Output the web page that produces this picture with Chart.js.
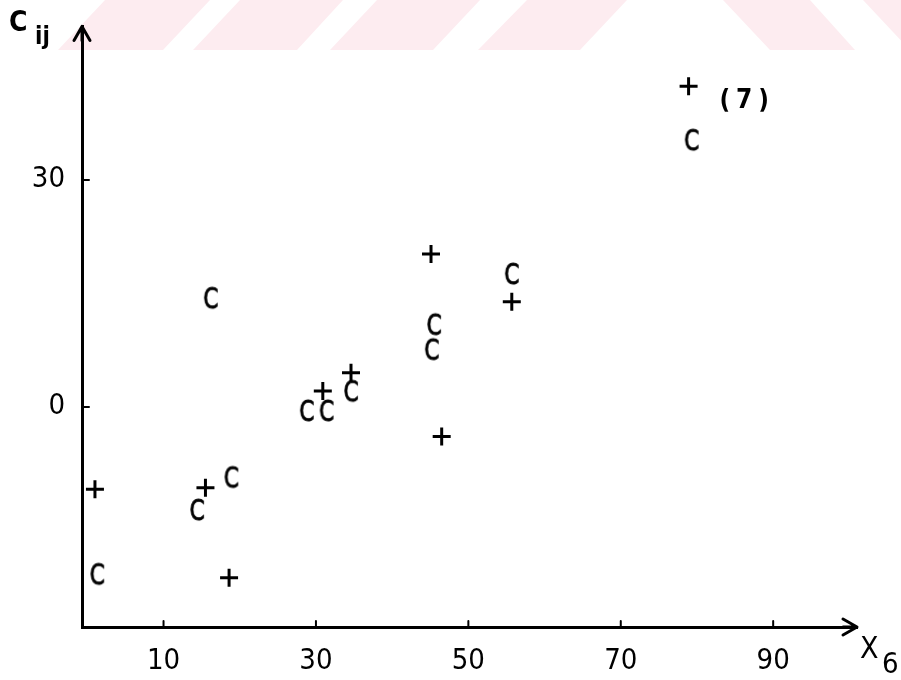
<!DOCTYPE html>
<html>
<head>
<meta charset="utf-8">
<script src="https://cdn.jsdelivr.net/npm/chart.js@4"></script>
<style>
  html, body { margin: 0; padding: 0; background: #fff; }
  #chart { display: block; }
</style>
</head>
<body>
<canvas id="chart" width="901" height="680"></canvas>
<script>
// values
var plusX = [1.0, 15.5, 18.6, 30.9, 34.6, 45.1, 46.5, 55.7, 78.9];
var plusY = [-10.9, -10.7, -22.6, 2.1, 4.5, 20.2, -3.9, 13.9, 42.4];
var cX = [1.3, 14.4, 18.9, 16.2, 28.8, 31.4, 34.6, 45.5, 45.2, 55.7, 79.3];
var cY = [-22.4, -13.9, -9.6, 14.1, -0.8, -0.8, 1.8, 10.6, 7.3, 17.3, 35.0];
var xTicks = [10, 30, 50, 70, 90];
var yTicks = [0, 30];
var noteText = '(7)';
var noteAt = [86.2, 40.4];

var FONT = '"DejaVu Sans Condensed", "Liberation Sans Narrow", "DejaVu Sans", sans-serif';

function toPoints(xs, ys) {
    return xs.map(function (x, i) { return { x: x, y: ys[i] }; });
}

// "C" glyph used as a point style, a bit narrow like the typewriter C
function makeLetter(letter) {
    var c = document.createElement('canvas');
    c.width = 24;
    c.height = 30;
    var g = c.getContext('2d');
    g.fillStyle = '#000';
    g.strokeStyle = '#000';
    g.lineWidth = 0.8;
    g.translate(12, 16);
    g.scale(0.86, 1);
    g.font = '28px ' + FONT;
    g.textAlign = 'center';
    g.textBaseline = 'middle';
    g.fillText(letter, 0, 0);
    g.strokeText(letter, 0, 0);
    return c;
}

// pale pink stripes across the top of the scan
var stripes = [
    [[105, 0], [210, 0], [163, 50], [58, 50]],
    [[240, 0], [343, 0], [297, 50], [193, 50]],
    [[377, 0], [480, 0], [433, 50], [330, 50]],
    [[527, 0], [627, 0], [580, 50], [478, 50]],
    [[723, 0], [810, 0], [855, 50], [770, 50]],
    [[863, 0], [950, 0], [995, 50], [910, 50]]
];

var paperPlugin = {
    id: 'paper',
    beforeDraw: function (chart) {
        var ctx = chart.ctx;
        ctx.save();
        ctx.fillStyle = 'rgb(253, 236, 240)';
        stripes.forEach(function (s) {
            ctx.beginPath();
            ctx.moveTo(s[0][0], s[0][1]);
            for (var i = 1; i < s.length; i++) ctx.lineTo(s[i][0], s[i][1]);
            ctx.closePath();
            ctx.fill();
        });
        ctx.restore();
    }
};

var axesPlugin = {
    id: 'axesDeco',
    afterDraw: function (chart) {
        var ctx = chart.ctx;
        var a = chart.chartArea;
        var xs = chart.scales.x, ys = chart.scales.y;
        ctx.save();
        ctx.strokeStyle = '#000';
        ctx.lineWidth = 3;
        ctx.lineCap = 'round';
        ctx.lineJoin = 'round';

        // arrow heads
        ctx.beginPath();
        ctx.moveTo(a.left - 8, a.top + 14);
        ctx.lineTo(a.left, a.top);
        ctx.lineTo(a.left + 8, a.top + 14);
        ctx.moveTo(a.left, a.top);
        ctx.lineTo(a.left, a.top + 14);
        ctx.moveTo(a.right - 14, a.bottom - 8);
        ctx.lineTo(a.right, a.bottom);
        ctx.lineTo(a.right - 14, a.bottom + 8);
        ctx.moveTo(a.right, a.bottom);
        ctx.lineTo(a.right - 14, a.bottom);
        ctx.stroke();

        // small inner tick marks
        ctx.lineWidth = 2;
        ctx.beginPath();
        xTicks.forEach(function (v) {
            var px = xs.getPixelForValue(v);
            ctx.moveTo(px, a.bottom);
            ctx.lineTo(px, a.bottom - 6);
        });
        yTicks.forEach(function (v) {
            var py = ys.getPixelForValue(v);
            ctx.moveTo(a.left, py);
            ctx.lineTo(a.left + 7, py);
        });
        ctx.stroke();

        // axis titles with subscripts
        ctx.fillStyle = '#000';
        ctx.textAlign = 'left';
        ctx.textBaseline = 'alphabetic';
        ctx.font = '600 28px ' + FONT;
        ctx.fillText('C', 9, 31);
        ctx.font = '600 24px ' + FONT;
        ctx.fillText('ij', 35, 44);
        ctx.font = '30px ' + FONT;
        ctx.fillText('X', 860, 658);
        ctx.font = '29px ' + FONT;
        ctx.fillText('6', 882, 673);

        // point label
        ctx.font = 'bold 26px ' + FONT;
        ctx.textAlign = 'center';
        ctx.textBaseline = 'middle';
        ctx.letterSpacing = '6px';
        ctx.fillText(noteText, xs.getPixelForValue(noteAt[0]) + 3, ys.getPixelForValue(noteAt[1]));
        ctx.restore();
    }
};

var ctx = document.getElementById('chart').getContext('2d');
var myChart = new Chart(ctx, {
    type: 'scatter',
    data: {
        datasets: [{
            label: '+',
            data: toPoints(plusX, plusY),
            pointStyle: 'cross',
            pointRadius: 9,
            pointHoverRadius: 9,
            borderColor: '#000',
            borderWidth: 3
        }, {
            label: 'C',
            data: toPoints(cX, cY),
            pointStyle: makeLetter('C'),
            pointRadius: 10,
            borderColor: '#000',
            backgroundColor: '#000'
        }]
    },
    options: {
        responsive: false,
        animation: false,
        devicePixelRatio: 1,
        layout: { padding: { top: 26, right: 44, left: 0, bottom: 0 } },
        plugins: {
            legend: { display: false },
            tooltip: { enabled: false }
        },
        scales: {
            x: {
                type: 'linear',
                min: -0.7,
                max: 101,
                afterBuildTicks: function (scale) {
                    scale.ticks = xTicks.map(function (v) { return { value: v }; });
                },
                afterFit: function (scale) { scale.height = 53; },
                grid: { display: false },
                border: { display: true, color: '#000', width: 3 },
                ticks: {
                    color: '#000',
                    padding: 9,
                    maxRotation: 0,
                    autoSkip: false,
                    font: { family: FONT, size: 29, weight: '500' }
                }
            },
            y: {
                type: 'linear',
                min: -29.1,
                max: 50.3,
                afterBuildTicks: function (scale) {
                    scale.ticks = yTicks.map(function (v) { return { value: v }; });
                },
                afterFit: function (scale) { scale.width = 82; },
                grid: { display: false },
                border: { display: true, color: '#000', width: 3 },
                ticks: {
                    color: '#000',
                    padding: 9,
                    autoSkip: false,
                    font: { family: FONT, size: 29, weight: '500' }
                }
            }
        }
    },
    plugins: [paperPlugin, axesPlugin]
});
</script>
</body>
</html>
